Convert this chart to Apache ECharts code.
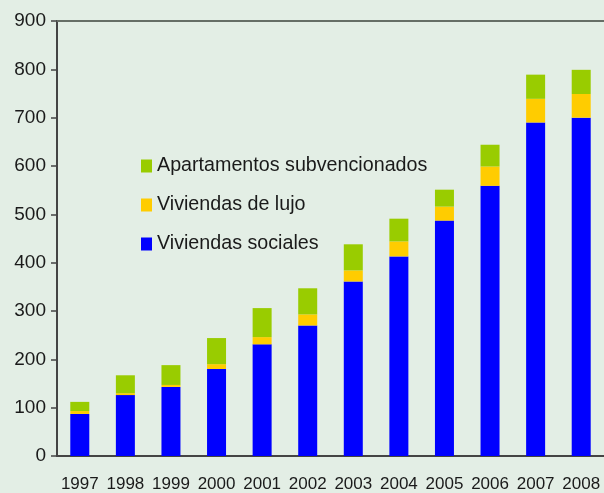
<!DOCTYPE html>
<html>
<head>
<meta charset="utf-8">
<script src="https://cdn.jsdelivr.net/npm/echarts@6/dist/echarts.min.js"></script>
<style>
  html, body { margin: 0; padding: 0; background: #e3eee5; }
  #chart { width: 604px; height: 493px; }
</style>
</head>
<body>
<div id="chart"></div>
<script>
// años
const years = ['1997', '1998', '1999', '2000', '2001', '2002', '2003', '2004', '2005', '2006', '2007', '2008']
// series apiladas (de abajo hacia arriba)
const sociales = [87, 126, 143, 180, 231, 270, 361, 413, 487, 559, 690, 700]
const lujo = [6, 4, 4, 10, 15, 23, 23, 31, 29, 40, 49, 49]
const subvencionados = [19, 37, 41, 54, 60, 54, 54, 47, 35, 45, 50, 50]

const names = ['Viviendas sociales', 'Viviendas de lujo', 'Apartamentos subvencionados']
const colors = ['#0000ff', '#ffcc00', '#99cc00']
const FONT = '"Liberation Sans", Arial, sans-serif'

let chart = echarts.init(document.getElementById('chart'))

function barSeries (name, data, color) {
  return {
    name: name,
    type: 'bar',
    stack: 'total',
    barWidth: 19,
    data: data,
    itemStyle: { color: color },
    xAxisIndex: 0
  }
}

let option = {
  backgroundColor: '#e3eee5',
  animation: false,
  textStyle: { fontFamily: FONT },
  grid: { left: 57, top: 21, width: 550, height: 436 },
  legend: {
    orient: 'vertical',
    left: 141,
    top: 156,
    padding: 0,
    itemWidth: 11,
    itemHeight: 13,
    itemGap: 19,
    icon: 'rect',
    data: [names[2], names[1], names[0]],
    textStyle: { fontSize: 19.7, color: '#1a1a1a', lineHeight: 20, fontFamily: FONT }
  },
  xAxis: [
    {
      type: 'category',
      data: years,
      axisLine: { lineStyle: { color: '#444', width: 2 } },
      axisTick: { length: 5, lineStyle: { color: '#444', width: 1.5 } },
      axisLabel: { fontSize: 17, color: '#1a1a1a', margin: 20, interval: 0, fontFamily: FONT }
    },
    {
      type: 'category',
      position: 'top',
      data: years,
      axisLine: { lineStyle: { color: '#666e66', width: 2 } },
      axisTick: { show: false },
      axisLabel: { show: false }
    }
  ],
  yAxis: {
    type: 'value',
    min: 0,
    max: 900,
    interval: 100,
    axisLine: { show: true, lineStyle: { color: '#444', width: 2 } },
    axisTick: { show: true, length: 6, lineStyle: { color: '#444', width: 1.5 } },
    axisLabel: { fontSize: 19, color: '#1a1a1a', margin: 11, fontFamily: FONT },
    splitLine: { show: false }
  },
  series: [
    barSeries(names[0], sociales, colors[0]),
    barSeries(names[1], lujo, colors[1]),
    barSeries(names[2], subvencionados, colors[2])
  ]
}

chart.setOption(option)
</script>
</body>
</html>
